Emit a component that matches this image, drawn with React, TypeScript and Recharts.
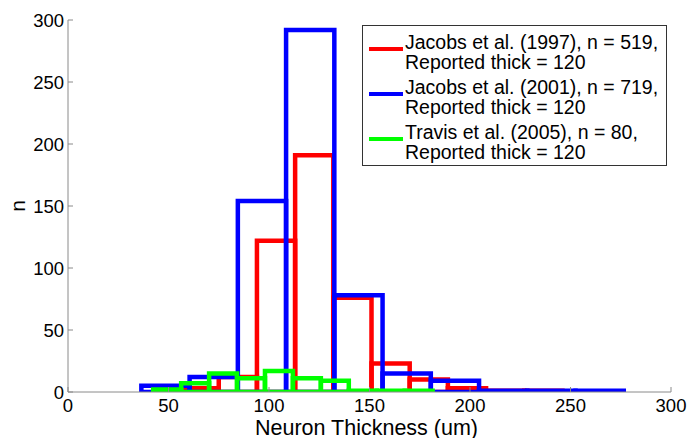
import React from 'react';
import { ComposedChart, XAxis, YAxis, ReferenceArea, Legend, Label } from 'recharts';

// bin edges and counts
const jacobs1997Edges = [56, 75, 94, 113, 132, 151, 170, 189, 208, 227, 246];
const jacobs1997Counts = [3, 12, 122, 191, 76, 23, 10, 3, 1, 1];

const jacobs2001Edges = [36.5, 60.5, 84.5, 108.5, 132.5, 156.5, 180.5, 204.5, 228.5, 252.5, 276.5];
const jacobs2001Counts = [5, 12, 154, 292, 78, 15, 9, 1, 1, 1];

const travis2005Edges = [42.4, 56.3, 70.2, 84.1, 98, 111.9, 125.8, 139.7, 153.6, 167.5, 181.4];
const travis2005Counts = [2, 7, 15, 11, 17, 11, 9, 1, 1, 1];

const xTicks = [0, 50, 100, 150, 200, 250, 300];
const yTicks = [0, 50, 100, 150, 200, 250, 300];

const seriesList = [
    { name: 'Jacobs et al. (1997), n = 519,', sub: 'Reported thick = 120', color: '#ff0000', edges: jacobs1997Edges, counts: jacobs1997Counts },
    { name: 'Jacobs et al. (2001), n = 719,', sub: 'Reported thick = 120', color: '#0000ff', edges: jacobs2001Edges, counts: jacobs2001Counts },
    { name: 'Travis et al. (2005), n = 80,', sub: 'Reported thick = 120', color: '#00ff00', edges: travis2005Edges, counts: travis2005Counts },
];

const FONT = '"Liberation Sans", Arial, Helvetica, sans-serif';
const FRAME = '#8a8a8a';

const LegendBox = () => (
    <div style={{
        boxSizing: 'border-box', width: 305, height: 141, border: '1px solid #333',
        background: '#fff', padding: '6px 0 0 6px', fontFamily: FONT, fontSize: 19.5, color: '#000',
    }}>
        {seriesList.map((s) => (
            <div key={s.name} style={{ display: 'flex', alignItems: 'flex-start', marginBottom: 5 }}>
                <div style={{ width: 34, height: 4, background: s.color, marginTop: 15, marginRight: 2, flex: 'none' }} />
                <div style={{ lineHeight: '20px', whiteSpace: 'nowrap' }}>
                    <div>{s.name}</div>
                    <div>{s.sub}</div>
                </div>
            </div>
        ))}
    </div>
);

const YLabel = (props: any) => {
    const vb = props.viewBox;
    const cy = vb.y + vb.height / 2;
    return (
        <text x={17.5} y={cy} transform={`rotate(-90, 17.5, ${cy})`} textAnchor="middle" dominantBaseline="central"
            fontFamily={FONT} fontSize={21} fill="#000">n</text>
    );
};

export default function App() {
    const tickStyle = { fill: '#000', fontSize: 18.5, fontFamily: FONT };
    return (
        <div style={{ position: 'absolute', left: 0, top: 0, background: '#fff' }}>
            <ComposedChart width={689} height={438} margin={{ top: 20, right: 18, bottom: 0, left: 0 }}>
                <XAxis type="number" dataKey="x" domain={[0, 300]} ticks={xTicks} allowDataOverflow
                    height={46} tickSize={-5} tickMargin={12} tick={tickStyle}
                    axisLine={{ stroke: FRAME }} tickLine={{ stroke: FRAME }}>
                    <Label value="Neuron Thickness (um)" position="insideBottom" offset={3.5} dx={-3}
                        style={{ fill: '#000', fontSize: 21.5, fontFamily: FONT }} />
                </XAxis>
                <XAxis xAxisId="top" orientation="top" type="number" domain={[0, 300]} ticks={xTicks} allowDataOverflow
                    height={0} tickSize={-5} tick={false} axisLine={{ stroke: FRAME }} tickLine={{ stroke: FRAME }} />
                <YAxis type="number" domain={[0, 300]} ticks={yTicks} allowDataOverflow
                    width={68} tickSize={-5} tickMargin={9} tick={tickStyle}
                    axisLine={{ stroke: FRAME }} tickLine={{ stroke: FRAME }}>
                    <Label content={<YLabel />} />
                </YAxis>
                <YAxis yAxisId="right" orientation="right" type="number" domain={[0, 300]} ticks={yTicks} allowDataOverflow
                    width={0} tickSize={-5} tick={false} axisLine={{ stroke: FRAME }} tickLine={{ stroke: FRAME }} />
                {seriesList.map((s) =>
                    s.counts.map((c, i) => (
                        <ReferenceArea key={`${s.name}-${i}`} x1={s.edges[i]} x2={s.edges[i + 1]} y1={0} y2={c}
                            fill="none" fillOpacity={0} stroke={s.color} strokeWidth={4.5} ifOverflow="hidden" />
                    ))
                )}
                <Legend layout="horizontal" verticalAlign="middle" align="center"
                    wrapperStyle={{ position: 'absolute', top: 25, left: 362, width: 305 }}
                    content={() => <LegendBox />} />
            </ComposedChart>
        </div>
    );
}
